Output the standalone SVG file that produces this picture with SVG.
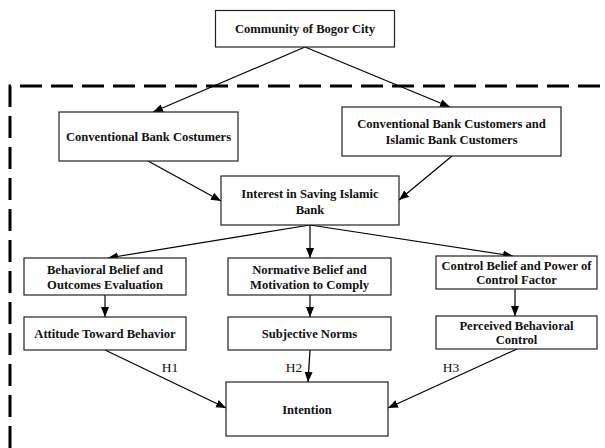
<svg xmlns="http://www.w3.org/2000/svg" width="605" height="448" viewBox="0 0 605 448">
<style>
.box{fill:#fff;stroke:#222;stroke-width:1.2}
.t{font-family:"Liberation Serif","Times New Roman",serif;font-weight:bold;font-size:12.6px;fill:#111;text-anchor:middle;dominant-baseline:central}
.h{font-family:"Liberation Serif","Times New Roman",serif;font-size:13.5px;fill:#111;text-anchor:middle;dominant-baseline:central}
.c{stroke:#000;stroke-width:1.2;fill:none;marker-end:url(#ah)}
.dash{stroke:#000;stroke-width:3;fill:none;stroke-dasharray:22 9}
</style>
<defs>
<marker id="ah" viewBox="0 0 10 10" refX="10" refY="5" markerWidth="10" markerHeight="10" markerUnits="userSpaceOnUse" orient="auto">
<path d="M0,1 L10,5 L0,9 Z" fill="#000"/>
</marker>
</defs>
<rect width="605" height="448" fill="#fff"/>
<g id="boundary">
<path class="dash" d="M10,448 L10,86 L605,86"/>
</g>
<g id="connectors">
<line class="c" x1="305" y1="47" x2="153" y2="112"/>
<line class="c" x1="305" y1="47" x2="450" y2="107"/>
<line class="c" x1="148" y1="161" x2="221" y2="201"/>
<line class="c" x1="452" y1="156" x2="399" y2="200"/>
<line class="c" x1="310" y1="225" x2="108" y2="258"/>
<line class="c" x1="310" y1="225" x2="310" y2="258"/>
<line class="c" x1="310" y1="225" x2="513" y2="256"/>
<line class="c" x1="105" y1="295" x2="105" y2="317"/>
<line class="c" x1="310" y1="295" x2="310" y2="317"/>
<line class="c" x1="515" y1="289" x2="515" y2="316"/>
<line class="c" x1="105" y1="350" x2="226" y2="408"/>
<line class="c" x1="310" y1="350" x2="308" y2="382"/>
<line class="c" x1="517" y1="349" x2="388" y2="408"/>
<text class="h" x="170" y="367">H1</text>
<text class="h" x="294" y="367">H2</text>
<text class="h" x="451" y="367">H3</text>
</g>
<g id="community">
<rect class="box" x="215.5" y="10.5" width="179" height="36.5"/>
<text class="t" x="305" y="29">Community of Bogor City</text>
</g>
<g id="conventional">
<rect class="box" x="59" y="112" width="179" height="49"/>
<text class="t" x="148.5" y="137">Conventional Bank Costumers</text>
</g>
<g id="both">
<rect class="box" x="342" y="107" width="219" height="49"/>
<text class="t" x="451.5" y="124">Conventional Bank Customers and</text>
<text class="t" x="451.5" y="140">Islamic Bank Customers</text>
</g>
<g id="interest">
<rect class="box" x="221" y="176" width="178" height="49"/>
<text class="t" x="310" y="194">Interest in Saving Islamic</text>
<text class="t" x="310" y="210">Bank</text>
</g>
<g id="behavioral">
<rect class="box" x="24" y="258" width="162" height="37"/>
<text class="t" x="105" y="269.5">Behavioral Belief and</text>
<text class="t" x="105" y="284.5">Outcomes Evaluation</text>
</g>
<g id="normative">
<rect class="box" x="228" y="258" width="163" height="37"/>
<text class="t" x="309.5" y="269.5">Normative Belief and</text>
<text class="t" x="309.5" y="284.5">Motivation to Comply</text>
</g>
<g id="control">
<rect class="box" x="436" y="256" width="161" height="33"/>
<text class="t" x="516.5" y="266">Control Belief and Power of</text>
<text class="t" x="516.5" y="280">Control Factor</text>
</g>
<g id="attitude">
<rect class="box" x="24" y="317" width="162" height="33"/>
<text class="t" x="105" y="334">Attitude Toward Behavior</text>
</g>
<g id="subjective">
<rect class="box" x="228" y="317" width="163" height="33"/>
<text class="t" x="309.5" y="334">Subjective Norms</text>
</g>
<g id="perceived">
<rect class="box" x="436" y="316" width="161" height="33"/>
<text class="t" x="516.5" y="326">Perceived Behavioral</text>
<text class="t" x="516.5" y="340">Control</text>
</g>
<g id="intention">
<rect class="box" x="226" y="382" width="162" height="54"/>
<text class="t" x="307" y="410">Intention</text>
</g>
</svg>
